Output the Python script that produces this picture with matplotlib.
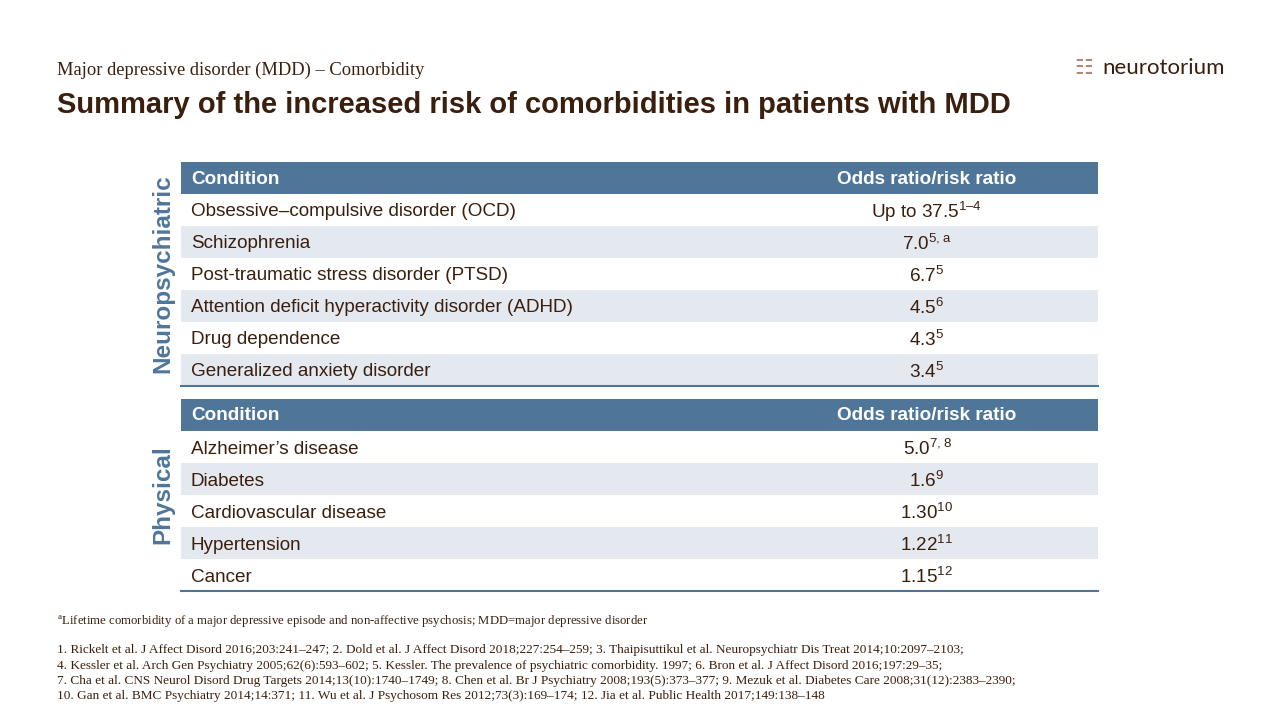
import matplotlib.pyplot as plt
from matplotlib.patches import Rectangle

plt.rcParams['mathtext.fontset'] = 'custom'
plt.rcParams['mathtext.rm'] = 'Liberation Sans'

neuro_conditions = ["Obsessive\u2013compulsive disorder (OCD)", "Schizophrenia",
                    "Post-traumatic stress disorder (PTSD)",
                    "Attention deficit hyperactivity disorder (ADHD)",
                    "Drug dependence", "Generalized anxiety disorder"]
neuro_values = ["Up to 37.5", "7.0", "6.7", "4.5", "4.3", "3.4"]
neuro_refs = ["1-4", "5,a", "5", "6", "5", "5"]

phys_conditions = ["Alzheimer\u2019s disease", "Diabetes", "Cardiovascular disease",
                   "Hypertension", "Cancer"]
phys_values = ["5.0", "1.6", "1.30", "1.22", "1.15"]
phys_refs = ["7,8", "9", "10", "11", "12"]

footnote_a = "Lifetime comorbidity of a major depressive episode and non-affective psychosis; MDD=major depressive disorder"
references = [
    "1. Rickelt et al. J Affect Disord 2016;203:241\u2013247; 2. Dold et al. J Affect Disord 2018;227:254\u2013259; 3. Thaipisuttikul et al. Neuropsychiatr Dis Treat 2014;10:2097\u20132103;",
    "4. Kessler et al. Arch Gen Psychiatry 2005;62(6):593\u2013602; 5. Kessler. The prevalence of psychiatric comorbidity. 1997; 6. Bron et al. J Affect Disord 2016;197:29\u201335;",
    "7. Cha et al. CNS Neurol Disord Drug Targets 2014;13(10):1740\u20131749; 8. Chen et al. Br J Psychiatry 2008;193(5):373\u2013377; 9. Mezuk et al. Diabetes Care 2008;31(12):2383\u20132390;",
    "10. Gan et al. BMC Psychiatry 2014;14:371; 11. Wu et al. J Psychosom Res 2012;73(3):169\u2013174; 12. Jia et al. Public Health 2017;149:138\u2013148",
]

BLUE = "#4F7699"
GRAY = "#E4E8EF"
TXT = "#3B1F0E"
SANS = "Liberation Sans"
SERIF = "Liberation Serif"
FS = 13.6

fig = plt.figure(figsize=(12.8, 7.2), dpi=100)
ax = fig.add_axes([0, 0, 1, 1])
ax.set_xlim(0, 1280)
ax.set_ylim(720, 0)
ax.axis("off")

ax.text(57, 70, "Major depressive disorder (MDD) \u2013 Comorbidity", family=SERIF,
        fontsize=13.3, color=TXT, va="center")
ax.text(57, 105, "Summary of the increased risk of comorbidities in patients with MDD",
        family=SANS, fontsize=21, weight="bold", color=TXT, va="center")
ax.text(1102, 68, "neurotorium", family="Lato", fontsize=16, color=TXT, va="center")
ax.text(1084, 68, "\u2637", family="DejaVu Sans", fontsize=15, color="#B08A70",
        va="center", ha="center")

X0, X1, VX, RH = 181, 1098, 927, 32


def block(top, conds, vals, refs, label):
    ax.add_patch(Rectangle((X0, top), X1 - X0, RH, color=BLUE, lw=0))
    ax.text(191, top + RH / 2 + 1, "Condition", family=SANS, fontsize=FS,
            weight="bold", color="white", va="center")
    ax.text(VX, top + RH / 2 + 1, "Odds ratio/risk ratio", family=SANS, fontsize=FS,
            weight="bold", color="white", va="center", ha="center")
    for i, (c, v, r) in enumerate(zip(conds, vals, refs)):
        y = top + RH * (i + 1)
        if i % 2 == 1:
            ax.add_patch(Rectangle((X0, y), X1 - X0, RH, color=GRAY, lw=0))
        ax.text(191, y + RH / 2 + 2, c, family=SANS, fontsize=FS, color=TXT, va="center")
        ax.text(VX, y + RH / 2 + 2, v + r"$^{\mathregular{" + r.replace("-", "\u2013") + "}}$",
                family=SANS, fontsize=FS, color=TXT, va="center", ha="center")
    bottom = top + RH * (len(conds) + 1)
    ax.plot([X0, X1], [bottom, bottom], color=BLUE, lw=1.5)
    ax.text(163, (top + bottom) / 2, label, family=SANS, fontsize=17.5, weight="bold",
            color=BLUE, rotation=90, va="center", ha="center")


block(162, neuro_conditions, neuro_values, neuro_refs, "Neuropsychiatric")
block(399, phys_conditions, phys_values, phys_refs, "Physical")

ax.text(57, 622, r"$^{\mathregular{a}}$" + footnote_a, family=SERIF, fontsize=9.2,
        color=TXT, va="center")
for i, line in enumerate(references):
    ax.text(57, 650 + i * 15.5, line, family=SERIF, fontsize=9.5, color=TXT, va="center")

fig.savefig("out.png", dpi=100)
